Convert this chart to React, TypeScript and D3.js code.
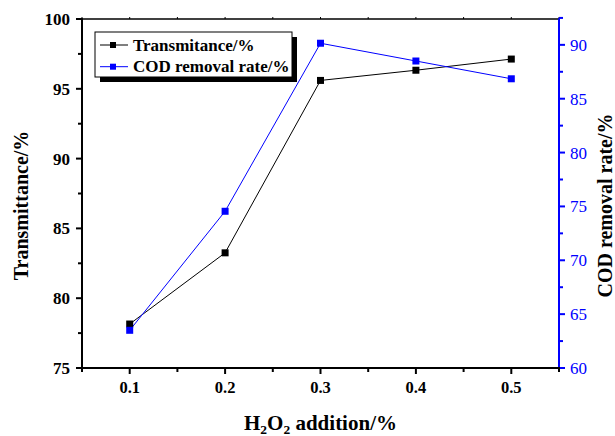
import React from "react";
import * as d3 from "d3";

const xValues = [0.1, 0.2, 0.3, 0.4, 0.5];
const transmittance = [78.15, 83.25, 95.6, 96.33, 97.13];
const codRemoval = [63.5, 74.55, 90.15, 88.5, 86.85];
const xTickLabels = ["0.1", "0.2", "0.3", "0.4", "0.5"];
const xMinorTicks = [0.05, 0.15, 0.25, 0.35, 0.45, 0.55];
const leftMinorTicks = [77.5, 82.5, 87.5, 92.5, 97.5];
const rightMinorTicks = [62.5, 67.5, 72.5, 77.5, 82.5, 87.5, 92.5];
const seriesNames = ["Transmitance/%", "COD removal rate/%"];

const FONT = '"Liberation Serif", "Times New Roman", Times, serif';
const BLUE = "#0000ff";

export default function App() {
  const left = 82, right = 559, top = 19, bottom = 368;
  const x = d3.scaleLinear().domain([0.05, 0.55]).range([left, right]);
  const yL = d3.scaleLinear().domain([75, 100]).range([bottom, top]);
  const yR = d3.scaleLinear().domain([60, 92.4]).range([bottom, top]);

  const lineL = d3.line<number>().x((_, i) => x(xValues[i])).y((d) => yL(d));
  const lineR = d3.line<number>().x((_, i) => x(xValues[i])).y((d) => yR(d));

  const leftTicks = yL.ticks(5);
  const rightTicks = d3.range(60, 91, 5);
  const ms = 7;
  const ts = { fontFamily: FONT };

  return (
    <svg
      width={615}
      height={436}
      style={{ position: "absolute", left: 0, top: 0, background: "#fff", fontFamily: FONT }}
    >
      {/* top border */}
      <line x1={left} x2={right} y1={top} y2={top} stroke="#000" strokeWidth={1.5} />
      {xValues.concat(xMinorTicks).map((t, i) => (
        <line key={"tt" + i} x1={x(t)} x2={x(t)} y1={top} y2={top - 2} stroke="#000" strokeWidth={1} />
      ))}

      {/* left axis */}
      <line x1={left} x2={left} y1={top - 0.75} y2={bottom + 1} stroke="#000" strokeWidth={2} />
      {leftTicks.map((t) => (
        <g key={"lt" + t}>
          <line x1={left - 6} x2={left} y1={yL(t)} y2={yL(t)} stroke="#000" strokeWidth={2} />
          <text style={ts} x={70} y={yL(t)} dy="0.35em" textAnchor="end" fontSize={17} fontWeight="bold">
            {t}
          </text>
        </g>
      ))}
      {leftMinorTicks.map((t) => (
        <line key={"lm" + t} x1={left - 4} x2={left} y1={yL(t)} y2={yL(t)} stroke="#000" strokeWidth={2} />
      ))}

      {/* right axis */}
      <line x1={right} x2={right} y1={top - 0.75} y2={bottom + 1} stroke={BLUE} strokeWidth={2} />
      {rightTicks.map((t) => (
        <g key={"rt" + t}>
          <line x1={right} x2={right + 6} y1={yR(t)} y2={yR(t)} stroke={BLUE} strokeWidth={2} />
          <text style={ts} x={570} y={yR(t)} dy="0.35em" textAnchor="start" fontSize={17} fill={BLUE}>
            {t}
          </text>
        </g>
      ))}
      {rightMinorTicks.map((t) => (
        <line key={"rm" + t} x1={right} x2={right + 4} y1={yR(t)} y2={yR(t)} stroke={BLUE} strokeWidth={2} />
      ))}

      {/* bottom axis */}
      <line x1={left - 1} x2={right + 1} y1={bottom} y2={bottom} stroke="#000" strokeWidth={2} />
      {xValues.map((t, i) => (
        <g key={"bt" + t}>
          <line x1={x(t)} x2={x(t)} y1={bottom} y2={bottom + 6} stroke="#000" strokeWidth={2} />
          <text style={ts} x={x(t)} y={393} textAnchor="middle" fontSize={16.5} fontWeight="bold">
            {xTickLabels[i]}
          </text>
        </g>
      ))}
      {xMinorTicks.map((t) => (
        <line key={"bm" + t} x1={x(t)} x2={x(t)} y1={bottom} y2={bottom + 4} stroke="#000" strokeWidth={2} />
      ))}

      {/* axis titles */}
      <text
        style={ts}
        transform={`translate(28,${(top + bottom) / 2 + 12}) rotate(-90)`}
        textAnchor="middle"
        fontSize={20}
        fontWeight="bold"
      >
        Transmittance/%
      </text>
      <text
        style={ts}
        transform={`translate(612,${(top + bottom) / 2 + 12}) rotate(-90)`}
        textAnchor="middle"
        fontSize={20}
        fontWeight="bold"
      >
        COD removal rate/%
      </text>
      <text style={ts} x={(left + right) / 2} y={430} textAnchor="middle" fontSize={21} fontWeight="bold">
        H<tspan fontSize={13.5} dy={4}>2</tspan>
        <tspan dy={-4}>O</tspan>
        <tspan fontSize={13.5} dy={4}>2</tspan>
        <tspan dy={-4}> addition/%</tspan>
      </text>

      {/* series */}
      <path d={lineL(transmittance) || ""} fill="none" stroke="#000" strokeWidth={1} />
      <path d={lineR(codRemoval) || ""} fill="none" stroke={BLUE} strokeWidth={1} />
      {transmittance.map((v, i) => (
        <rect key={"tm" + i} x={x(xValues[i]) - ms / 2} y={yL(v) - ms / 2} width={ms} height={ms} fill="#000" />
      ))}
      {codRemoval.map((v, i) => (
        <rect key={"cm" + i} x={x(xValues[i]) - ms / 2} y={yR(v) - ms / 2} width={ms} height={ms} fill={BLUE} />
      ))}

      {/* legend */}
      <rect x={100} y={37} width={197} height={45} fill="#000" />
      <rect x={95} y={32} width={197} height={45} fill="#fff" stroke="#000" strokeWidth={1} />
      {seriesNames.map((name, i) => {
        const cy = 45 + i * 21.7;
        const col = i === 0 ? "#000" : BLUE;
        return (
          <g key={"lg" + i}>
            <line x1={100} x2={128} y1={cy} y2={cy} stroke={col} strokeWidth={1} />
            <rect x={113 - 3} y={cy - 3} width={6} height={6} fill={col} />
            <text style={ts} x={133} y={cy + 5.5} fontSize={17} fontWeight="bold">
              {name}
            </text>
          </g>
        );
      })}
    </svg>
  );
}
